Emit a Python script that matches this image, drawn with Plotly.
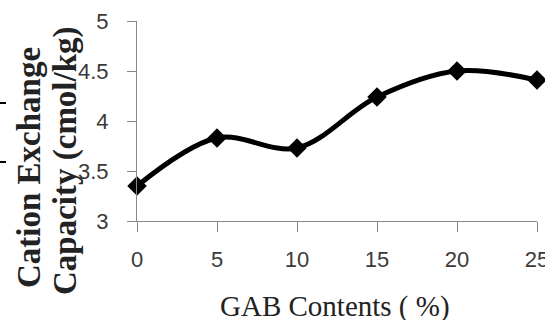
import plotly.graph_objects as go

gab_content = [0, 5, 10, 15, 20, 25]
cec = [3.35, 3.83, 3.73, 4.24, 4.50, 4.41]
x_ticks = [0, 5, 10, 15, 20, 25]
y_ticks = [3, 3.5, 4, 4.5, 5]
y_tick_labels = ["3", "3.5", "4", "4.5", "5"]

# plot area at x 137..537, y 21..221 of the 545x320 picture
L, T, PW, PH = 137, 21, 400, 200
FIG_W, FIG_H = 545, 320

fig = go.Figure()
fig.add_trace(go.Scatter(
    x=gab_content, y=cec, mode="lines+markers",
    line=dict(color="black", width=5, shape="spline", smoothing=1),
    marker=dict(symbol="diamond", size=15, color="black"),
    cliponaxis=False, showlegend=False,
))

tickfont = dict(family="Liberation Sans, Arial, sans-serif", size=22, color="#3a3a3a")
fig.update_xaxes(
    range=[0, 25], tickvals=x_ticks, showgrid=False, zeroline=False,
    showline=True, linecolor="#888", linewidth=1, automargin=False,
    ticks="outside", ticklen=10, tickcolor="#888", tickfont=tickfont,
    ticklabelstandoff=9, ticklabeloverflow="allow",
)
fig.update_yaxes(
    range=[3, 5], tickvals=y_ticks, ticktext=y_tick_labels, showgrid=False,
    zeroline=False, showline=True, linecolor="#888", linewidth=1, automargin=False,
    ticks="outside", ticklen=9, tickcolor="#888", tickfont=tickfont,
    ticklabelstandoff=14, ticklabeloverflow="allow",
)


def px_x(page_x):
    return (page_x - L) / PW


def px_y(page_y):
    return (T + PH - page_y) / PH


title_font = dict(family="Liberation Serif, Times New Roman, serif", size=33, color="#222")
for line_text, cx, cy in [("Cation Exchange", 29, 168), ("Capacity (cmol/kg)", 65, 161)]:
    fig.add_annotation(
        text="<b>%s</b>" % line_text, textangle=-90,
        xref="paper", yref="paper", x=px_x(cx), y=px_y(cy),
        xanchor="center", yanchor="middle", showarrow=False,
        font=title_font,
    )
fig.add_annotation(
    text="GAB Contents ( %)",
    xref="paper", yref="paper", x=px_x(335), y=px_y(306),
    xanchor="center", yanchor="middle", showarrow=False,
    font=dict(family="Liberation Serif, Times New Roman, serif", size=29, color="#222"),
)
for yy in [103, 162]:
    fig.add_shape(type="line", xref="paper", yref="paper",
                  x0=px_x(0), x1=px_x(6),
                  y0=px_y(yy), y1=px_y(yy),
                  line=dict(color="black", width=2))

fig.update_layout(
    width=FIG_W, height=FIG_H,
    margin=dict(l=L, r=FIG_W - L - PW, t=T, b=FIG_H - T - PH, pad=0,
                autoexpand=False),
    plot_bgcolor="white", paper_bgcolor="white",
)
fig.write_html(
    "out.html",
    config={"displayModeBar": False},
    post_script="document.body.style.margin='0';document.body.style.overflow='hidden';",
)
